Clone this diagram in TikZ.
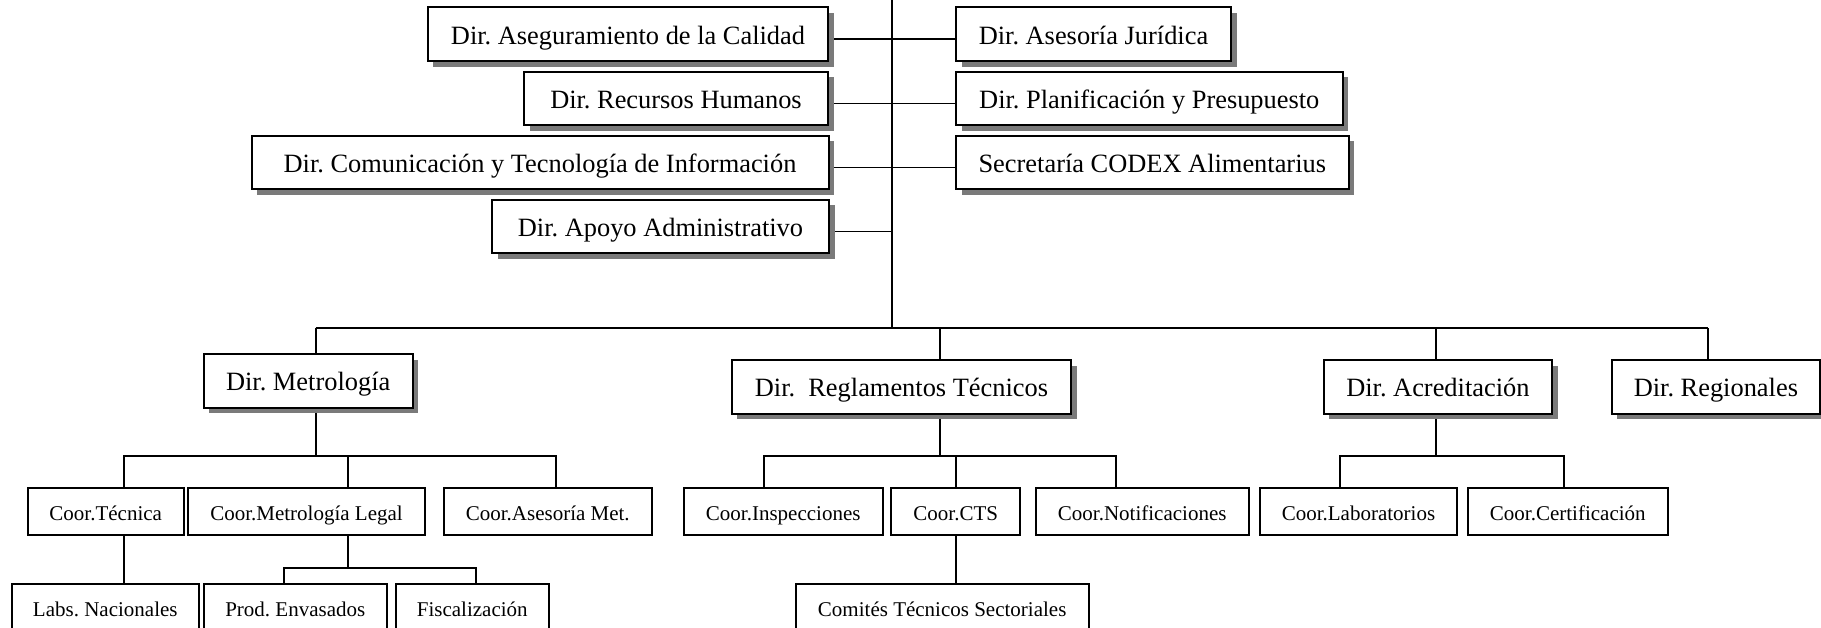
\documentclass[tikz,border=0pt]{standalone}
\usepackage{fontspec}
\setmainfont{Liberation Serif}
\usetikzlibrary{shadows,backgrounds}
\frenchspacing

\begin{document}
\begin{tikzpicture}[x=0.5pt,y=-0.5pt,
        dir/.style={draw, line width=1pt, fill=white, inner sep=0pt, minimum height=26.8pt, text height=10pt, text depth=0pt, font=\fontsize{13.2}{15}\selectfont, drop shadow={shadow xshift=2.8pt, shadow yshift=-2.8pt, fill=black!52, opacity=1}},
        coor/.style={draw, line width=0.9pt, fill=white, inner sep=0pt, minimum height=23.8pt, text height=8.5pt, text depth=0pt, font=\fontsize{10.5}{12}\selectfont},
        link/.style={line width=0.8pt}]
        \clip (0,0) rectangle (1821,627);
        \node[dir, minimum width=200.3pt] (aseg) at (628,34.2) {Dir. Aseguramiento de la Calidad};
        \node[dir, minimum width=152pt] (rrhh) at (676,98.3) {Dir. Recursos Humanos};
        \node[dir, minimum width=288.5pt] (comu) at (540,162.3) {Dir. Comunicación y Tecnología de Información};
        \node[dir, minimum width=168.5pt] (apoyo) at (660.5,226.5) {Dir. Apoyo Administrativo};
        \node[dir, minimum width=137.5pt] (jurid) at (1093.5,34.2) {Dir. Asesoría Jurídica};
        \node[dir, minimum width=193.3pt] (plan) at (1149.3,98.3) {Dir. Planificación y Presupuesto};
        \node[dir, minimum width=196.3pt] (codex) at (1152.3,162.3) {Secretaría CODEX Alimentarius};
        \node[dir, minimum width=104.5pt] (metro) at (308.2,380.8) {Dir. Metrología};
        \node[dir, minimum width=169.8pt] (regl) at (901.5,386.7) {Dir.\ \ Reglamentos Técnicos};
        \node[dir, minimum width=114.2pt] (acred) at (1437.9,386.7) {Dir. Acreditación};
        \node[dir, minimum width=104.2pt] (regio) at (1715.9,386.7) {Dir. Regionales};
        \node[coor, minimum width=78pt] (tec) at (105.7,511.5) {Coor.Técnica};
        \node[coor, minimum width=118.8pt] (legal) at (306.5,511.5) {Coor.Metrología Legal};
        \node[coor, minimum width=104.2pt] (asemet) at (547.8,511.5) {Coor.Asesoría Met.};
        \node[coor, minimum width=99.5pt] (insp) at (783.2,511.5) {Coor.Inspecciones};
        \node[coor, minimum width=64.4pt] (cts) at (955.7,511.5) {Coor.CTS};
        \node[coor, minimum width=106.5pt] (notif) at (1142.2,511.5) {Coor.Notificaciones};
        \node[coor, minimum width=98.8pt] (lab) at (1358.5,511.5) {Coor.Laboratorios};
        \node[coor, minimum width=100.2pt] (cert) at (1567.8,511.5) {Coor.Certificación};
        \node[coor, minimum width=93.7pt] (labs) at (105.3,607.8) {Labs. Nacionales};
        \node[coor, minimum width=91.7pt] (prod) at (295.3,607.8) {Prod. Envasados};
        \node[coor, minimum width=76.7pt] (fisc) at (472.3,607.8) {Fiscalización};
        \node[coor, minimum width=146.5pt] (comit) at (942.2,607.8) {Comités Técnicos Sectoriales};
        \coordinate (trunk) at (892,0);
        \coordinate (hub) at (892,328);
        \coordinate (mx) at (315.7,328);
        \coordinate (rx) at (940,328);
        \coordinate (ax) at (1436,328);
        \coordinate (gx) at (1708,328);
        \coordinate (msub) at (315.7,455.7);
        \coordinate (tecx) at (123.7,455.7);
        \coordinate (legx) at (347.7,455.7);
        \coordinate (asex) at (556,455.7);
        \coordinate (legsub) at (347.7,567.7);
        \coordinate (prodx) at (283.7,567.7);
        \coordinate (fiscx) at (475.7,567.7);
        \coordinate (rsub) at (940,455.7);
        \coordinate (inspx) at (763.7,455.7);
        \coordinate (ctsx) at (956,455.7);
        \coordinate (notifx) at (1116,455.7);
        \coordinate (asub) at (1436,455.7);
        \coordinate (labx) at (1340,455.7);
        \coordinate (certx) at (1564,455.7);
        \begin{scope}[on background layer]
        \draw[link] (trunk) -- (hub);
        \draw[link] ([yshift=-2.5pt]aseg.east) -- ([yshift=-2.5pt]jurid.west);
        \draw[link] ([yshift=-2.5pt]rrhh.east) -- ([yshift=-2.5pt]plan.west);
        \draw[link] ([yshift=-2.5pt]comu.east) -- ([yshift=-2.5pt]codex.west);
        \draw[link] ([yshift=-2.5pt]apoyo.east) -- ([yshift=-2.5pt]apoyo.east -| trunk);
        \draw[link] (mx) -- (gx);
        \draw[link] (mx) -- (metro.north -| mx);
        \draw[link] (rx) -- (regl.north -| rx);
        \draw[link] (ax) -- (acred.north -| ax);
        \draw[link] (gx) -- (regio.north -| gx);
        \draw[link] (metro.south -| msub) -- (msub);
        \draw[link] (tec.north -| tecx) -- (tecx) -- (asex) -- (asemet.north -| asex);
        \draw[link] (legx) -- (legal.north -| legx);
        \draw[link] (tec.south -| tecx) -- (labs.north -| tecx);
        \draw[link] (legal.south -| legx) -- (legsub);
        \draw[link] (prod.north -| prodx) -- (prodx) -- (fiscx) -- (fisc.north -| fiscx);
        \draw[link] (regl.south -| rsub) -- (rsub);
        \draw[link] (insp.north -| inspx) -- (inspx) -- (notifx) -- (notif.north -| notifx);
        \draw[link] (ctsx) -- (cts.north -| ctsx);
        \draw[link] (cts.south -| ctsx) -- (comit.north -| ctsx);
        \draw[link] (acred.south -| asub) -- (asub);
        \draw[link] (lab.north -| labx) -- (labx) -- (certx) -- (cert.north -| certx);
        \end{scope}
\end{tikzpicture}
\end{document}
